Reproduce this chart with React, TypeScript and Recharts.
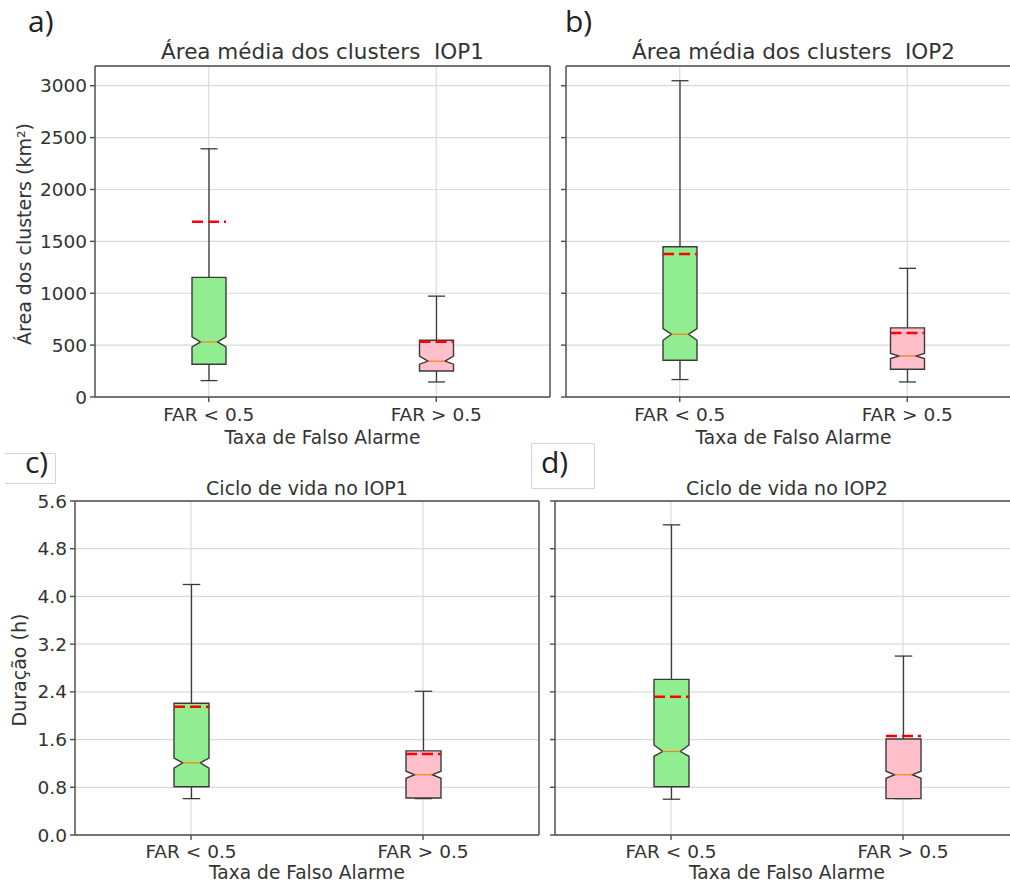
import { ComposedChart, Bar, XAxis, YAxis, CartesianGrid, ReferenceLine } from 'recharts'

const categories = ['FAR < 0.5', 'FAR > 0.5']
const boxFills = ['#90ee90', '#ffc0cb']

// a) Área média dos clusters IOP1 (km²)
const areaIop1Low = [158, 145]
const areaIop1Q1 = [316, 251]
const areaIop1NotchLo = [483, 316]
const areaIop1Median = [531, 345]
const areaIop1NotchHi = [579, 393]
const areaIop1Q3 = [1153, 547]
const areaIop1High = [2392, 972]
const areaIop1Mean = [1690, 532]

// b) Área média dos clusters IOP2 (km²)
const areaIop2Low = [168, 145]
const areaIop2Q1 = [354, 268]
const areaIop2NotchLo = [547, 371]
const areaIop2Median = [605, 396]
const areaIop2NotchHi = [660, 419]
const areaIop2Q3 = [1448, 666]
const areaIop2High = [3048, 1240]
const areaIop2Mean = [1378, 618]

// c) Ciclo de vida no IOP1 (h)
const durIop1Low = [0.61, 0.61]
const durIop1Q1 = [0.81, 0.62]
const durIop1NotchLo = [1.12, 0.95]
const durIop1Median = [1.21, 1.01]
const durIop1NotchHi = [1.29, 1.07]
const durIop1Q3 = [2.21, 1.41]
const durIop1High = [4.2, 2.41]
const durIop1Mean = [2.15, 1.36]

// d) Ciclo de vida no IOP2 (h)
const durIop2Low = [0.6, 0.61]
const durIop2Q1 = [0.81, 0.61]
const durIop2NotchLo = [1.32, 0.95]
const durIop2Median = [1.4, 1.01]
const durIop2NotchHi = [1.51, 1.07]
const durIop2Q3 = [2.61, 1.61]
const durIop2High = [5.2, 3.0]
const durIop2Mean = [2.32, 1.66]

const areaTicks = [0, 500, 1000, 1500, 2000, 2500, 3000]
const areaYMax = 3190
const durTicks = [0, 0.8, 1.6, 2.4, 3.2, 4.0, 4.8, 5.6]
const durYMax = 5.6

const FONT = '"DejaVu Sans", sans-serif'
const AXIS = '#4d4d4d'
const TEXT = '#333'
const MT = 12

type Stats = {
  low: number[]; q1: number[]; notchLo: number[]; median: number[]
  notchHi: number[]; q3: number[]; high: number[]; mean: number[]
}

function toRows(s: Stats) {
  return categories.map((cat, i) => ({
    pos: i + 1,
    cat,
    range: [s.low[i], s.high[i]],
    low: s.low[i], q1: s.q1[i], notchLo: s.notchLo[i], median: s.median[i],
    notchHi: s.notchHi[i], q3: s.q3[i], high: s.high[i], mean: s.mean[i],
  }))
}

// notched box drawn inside the range bar (low..high) given by recharts
function NotchedBox(props: any) {
  const { x, y, width, height, payload, index } = props
  const { low, q1, notchLo, median, notchHi, q3, high, mean } = payload
  const top = Math.min(y, y + height)
  const bot = Math.max(y, y + height)
  const py = (v: number) => bot - ((bot - top) * (v - low)) / (high - low)
  const cx = x + width / 2
  const r = x + width
  const nw = width / 4
  const cap = width / 4
  const d = `M${x},${py(q1)} L${r},${py(q1)} L${r},${py(notchLo)} L${cx + nw},${py(median)} L${r},${py(notchHi)} L${r},${py(q3)} L${x},${py(q3)} L${x},${py(notchHi)} L${cx - nw},${py(median)} L${x},${py(notchLo)} Z`
  return (
    <g>
      <line x1={cx} x2={cx} y1={py(high)} y2={py(q3)} stroke="#3a3a3a" strokeWidth={1.3} />
      <line x1={cx} x2={cx} y1={py(q1)} y2={py(low)} stroke="#3a3a3a" strokeWidth={1.3} />
      <line x1={cx - cap} x2={cx + cap} y1={py(high)} y2={py(high)} stroke="#3a3a3a" strokeWidth={1.3} />
      <line x1={cx - cap} x2={cx + cap} y1={py(low)} y2={py(low)} stroke="#3a3a3a" strokeWidth={1.3} />
      <path d={d} fill={boxFills[index % boxFills.length]} stroke="#3a3a3a" strokeWidth={1.4} />
      <line x1={cx - nw} x2={cx + nw} y1={py(median)} y2={py(median)} stroke="#ff7f0e" strokeWidth={1.2} />
      <line x1={x} x2={r} y1={py(mean)} y2={py(mean)} stroke="#ff0000" strokeWidth={2.5} strokeDasharray="11 5" />
    </g>
  )
}

type PanelProps = {
  stats: Stats
  left: number
  top: number
  yAxisW: number
  plotW: number
  plotH: number
  yMax: number
  ticks: number[]
  fmt: (v: number) => string
  tickMargin: number
}

function Panel({ stats, left, top, yAxisW, plotW, plotH, yMax, ticks, fmt, tickMargin }: PanelProps) {
  const rows = toRows(stats)
  const barSize = Math.round((0.15 * plotW) / 2)
  return (
    <div style={{ position: 'absolute', left, top: top - MT }}>
      <ComposedChart
        width={yAxisW + plotW + 3}
        height={MT + plotH + 40}
        data={rows}
        margin={{ top: MT, right: 3, bottom: 0, left: 0 }}
      >
        <CartesianGrid stroke="#dadada" strokeWidth={1.2} />
        <XAxis
          dataKey="pos"
          type="number"
          domain={[0.5, 2.5]}
          ticks={[1, 2]}
          interval={0}
          tickFormatter={(v) => categories[v - 1]}
          height={40}
          tickSize={5}
          tickMargin={tickMargin}
          stroke={AXIS}
          strokeWidth={1.4}
          tick={{ fill: TEXT, fontSize: 18.5, fontFamily: FONT }}
        />
        <YAxis
          type="number"
          domain={[0, yMax]}
          ticks={ticks}
          interval={0}
          width={yAxisW}
          tickSize={5}
          tickMargin={3}
          tickFormatter={fmt}
          stroke={AXIS}
          strokeWidth={1.4}
          tick={{ fill: TEXT, fontSize: 18.5, fontFamily: FONT }}
        />
        <ReferenceLine y={yMax} stroke={AXIS} strokeWidth={1.4} />
        <ReferenceLine x={2.5} stroke={AXIS} strokeWidth={1.4} />
        <Bar dataKey="range" barSize={barSize} shape={NotchedBox} isAnimationActive={false} />
      </ComposedChart>
    </div>
  )
}

const areaFmt = (v: number) => String(v)
const durFmt = (v: number) => v.toFixed(1)
const noFmt = () => ''

export default function App() {
  const tag = { fontFamily: '"Open Sans", sans-serif', fontSize: 30, fill: '#222' }
  const title = { fontFamily: FONT, fill: TEXT, textAnchor: 'middle' as const, style: { whiteSpace: 'pre' as const } }
  return (
    <div style={{ position: 'absolute', left: 0, top: 0, width: 1010, height: 886, overflow: 'hidden', background: '#fff' }}>
      <Panel
        stats={{ low: areaIop1Low, q1: areaIop1Q1, notchLo: areaIop1NotchLo, median: areaIop1Median, notchHi: areaIop1NotchHi, q3: areaIop1Q3, high: areaIop1High, mean: areaIop1Mean }}
        left={0} top={66} yAxisW={95} plotW={455} plotH={331}
        yMax={areaYMax} ticks={areaTicks} fmt={areaFmt} tickMargin={6}
      />
      <Panel
        stats={{ low: areaIop2Low, q1: areaIop2Q1, notchLo: areaIop2NotchLo, median: areaIop2Median, notchHi: areaIop2NotchHi, q3: areaIop2Q3, high: areaIop2High, mean: areaIop2Mean }}
        left={558} top={66} yAxisW={8} plotW={455} plotH={331}
        yMax={areaYMax} ticks={areaTicks} fmt={noFmt} tickMargin={6}
      />
      <Panel
        stats={{ low: durIop1Low, q1: durIop1Q1, notchLo: durIop1NotchLo, median: durIop1Median, notchHi: durIop1NotchHi, q3: durIop1Q3, high: durIop1High, mean: durIop1Mean }}
        left={0} top={501} yAxisW={75} plotW={464} plotH={334}
        yMax={durYMax} ticks={durTicks} fmt={durFmt} tickMargin={5}
      />
      <Panel
        stats={{ low: durIop2Low, q1: durIop2Q1, notchLo: durIop2NotchLo, median: durIop2Median, notchHi: durIop2NotchHi, q3: durIop2Q3, high: durIop2High, mean: durIop2Mean }}
        left={547} top={501} yAxisW={8} plotW={464} plotH={334}
        yMax={durYMax} ticks={durTicks} fmt={noFmt} tickMargin={5}
      />

      <svg width={1010} height={886} style={{ position: 'absolute', left: 0, top: 0, pointerEvents: 'none' }}>
        {/* panel tags */}
        <text x={28} y={32} {...tag}>a)</text>
        <text x={565} y={32} {...tag}>b)</text>
        <path d="M5,453.5 H55.5 V483.5 H5" fill="none" stroke="#d4d4d4" />
        <text x={25} y={473} {...tag}>c)</text>
        <path d="M531.5,443.5 H594.5 V488.5 H531.5 Z" fill="none" stroke="#d4d4d4" />
        <text x={541} y={473} {...tag}>d)</text>

        {/* titles */}
        <text x={322.5} y={59} fontSize={21.5} {...title}>Área média dos clusters  IOP1</text>
        <text x={793.5} y={59} fontSize={21.5} {...title}>Área média dos clusters  IOP2</text>
        <text x={307} y={495} fontSize={19} {...title}>Ciclo de vida no IOP1</text>
        <text x={787} y={495} fontSize={19} {...title}>Ciclo de vida no IOP2</text>

        {/* axis labels */}
        <text transform="translate(31,234) rotate(-90)" fontSize={19} {...title}>Área dos clusters (km²)</text>
        <text transform="translate(26,670) rotate(-90)" fontSize={19} {...title}>Duração (h)</text>
        <text x={322.5} y={443.5} fontSize={18.6} {...title}>Taxa de Falso Alarme</text>
        <text x={793.5} y={443.5} fontSize={18.6} {...title}>Taxa de Falso Alarme</text>
        <text x={307} y={879} fontSize={18.6} {...title}>Taxa de Falso Alarme</text>
        <text x={787} y={879} fontSize={18.6} {...title}>Taxa de Falso Alarme</text>
      </svg>
    </div>
  )
}
